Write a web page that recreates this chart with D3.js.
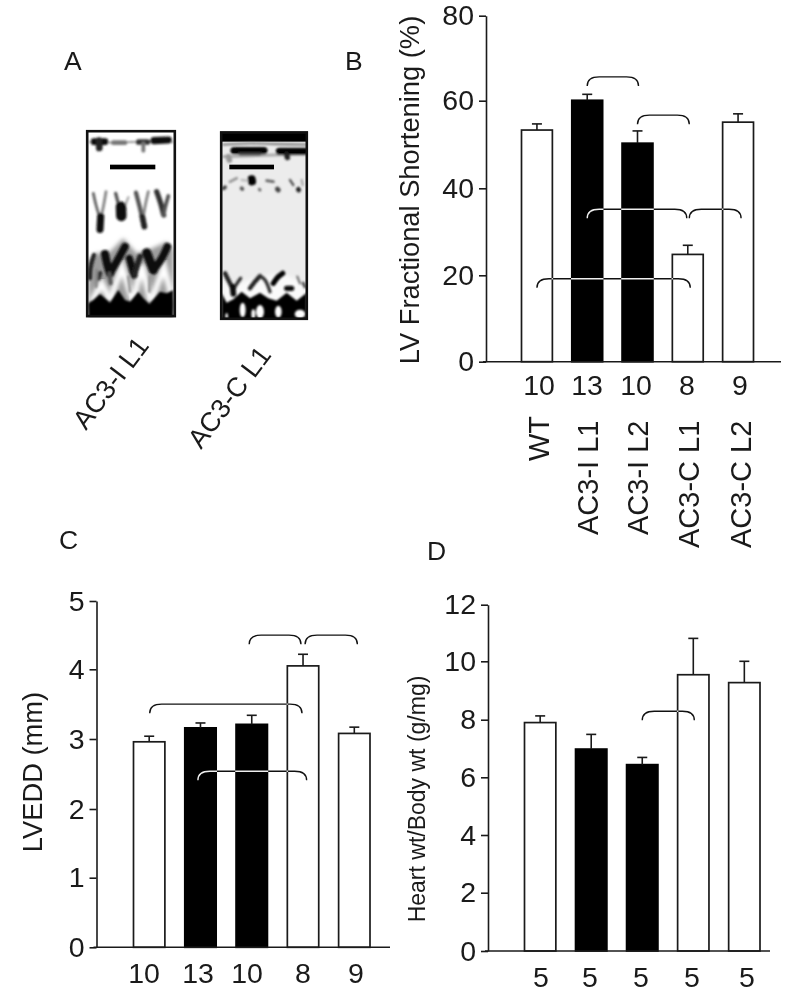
<!DOCTYPE html>
<html><head><meta charset="utf-8">
<script src="https://cdn.jsdelivr.net/npm/d3@7/dist/d3.min.js"></script>
<style>
html,body{margin:0;padding:0;background:#fff}
svg{display:block}
text{font-family:"Liberation Sans",Arial,sans-serif;fill:#1a1a1a}
</style></head><body>
<svg id="c" width="800" height="998"></svg>
<script>
// ---- data ----
const fills = ["#fff","#000","#000","#fff","#fff"];
const groups = ["WT","AC3-I L1","AC3-I L2","AC3-C L1","AC3-C L2"];
const fsValues = [53.3,60.1,50.3,24.8,55.1];
const fsTops   = [54.7,61.5,53.1,26.9,57.0];
const fsCounts = ["10","13","10","8","9"];
const fsTicks  = [0,20,40,60,80];
const lvValues = [2.96,3.16,3.21,4.05,3.08];
const lvTops   = [3.04,3.23,3.34,4.22,3.17];
const lvCounts = ["10","13","10","8","9"];
const lvTicks  = [0,1,2,3,4,5];
const hwValues = [7.9,6.98,6.44,9.54,9.27];
const hwTops   = [8.13,7.49,6.69,10.81,10.0];
const hwCounts = ["5","5","5","5","5"];
const hwTicks  = [0,2,4,6,8,10,12];
// brackets: [from bar position, to bar position, height in axis units]
const fsBrackets = [[1,2.02,65.6],[2,3.03,56.7],[1,2.98,35.2],[3.03,4.06,35.2],[0,3.05,19.2]];
const lvBrackets = [[1.95,2.96,4.5],[3.04,4.06,4.5],[0.01,2.98,3.5],[0.95,3.07,2.54]];
const hwBrackets = [[2.0,3.02,8.29]];

// ---- layout ----
const svg = d3.select("#c");
svg.append("rect").attr("width",800).attr("height",998).attr("fill","#fff");
const INK="#1a1a1a";

function panel(o){
  const g = svg.append("g");
  const y = d3.scaleLinear().domain(o.ticks).range(o.tickY);
  const x = d3.scaleBand().domain(d3.range(5)).range(o.barRange).paddingInner(o.pad).paddingOuter(0);
  const bx = d3.scaleLinear().domain([0,4]).range([x(0)+x.bandwidth()/2,x(4)+x.bandwidth()/2]);
  const lab = d3.scaleOrdinal().domain(d3.range(5)).range(o.labelX);

  g.selectAll("rect.bar").data(o.values).join("rect").attr("class","bar")
    .attr("x",(d,i)=>x(i)).attr("width",x.bandwidth())
    .attr("y",d=>y(d)).attr("height",d=>y(0)-y(d))
    .attr("fill",(d,i)=>fills[i]).attr("stroke",(d,i)=>fills[i]==="#000"?"#000":INK).attr("stroke-width",1.7);
  const cx = i=>x(i)+x.bandwidth()/2;
  g.selectAll("line.w").data(o.tops).join("line").attr("class","w")
    .attr("x1",(d,i)=>cx(i)).attr("x2",(d,i)=>cx(i))
    .attr("y1",(d,i)=>y(o.values[i])).attr("y2",d=>y(d)).attr("stroke",INK).attr("stroke-width",1.6);
  g.selectAll("line.c").data(o.tops).join("line").attr("class","c")
    .attr("x1",(d,i)=>cx(i)-5).attr("x2",(d,i)=>cx(i)+5)
    .attr("y1",d=>y(d)).attr("y2",d=>y(d)).attr("stroke",INK).attr("stroke-width",1.6);
  const ax = g.append("g").attr("transform",`translate(${o.axisX},0)`)
    .call(d3.axisLeft(y).tickValues(o.ticks).tickFormat(d3.format("d")).tickSize(7).tickSizeOuter(0).tickPadding(5));
  ax.selectAll("line,path").attr("stroke",INK).attr("stroke-width",1.6);
  ax.selectAll("text").attr("font-size",o.fs).attr("fill",INK).attr("font-family",'"Liberation Sans"');
  g.append("line").attr("x1",o.axisX-3).attr("x2",o.baseEnd).attr("y1",y(0)).attr("y2",y(0))
    .attr("stroke",INK).attr("stroke-width",1.6);
  g.selectAll("text.n").data(o.counts).join("text").attr("class","n")
    .attr("x",(d,i)=>lab(i)).attr("y",o.countY).attr("text-anchor","middle")
    .attr("font-size",o.fs).text(d=>d);
  g.append("text").attr("transform",`translate(${o.titleX},${o.titleY}) rotate(-90)`)
    .attr("text-anchor","middle").attr("font-size",o.titleFs).text(o.title);
  const bg = g.append("g").style("mix-blend-mode","difference");
  bg.selectAll("path").data(o.brackets).join("path")
    .attr("fill","none").attr("stroke","#eee").attr("stroke-width",1.4)
    .attr("d",d=>{
      const a=bx(d[0]),b=bx(d[1]),t=y(d[2]),h=9;
      return `M${a},${t+h}C${a},${t+2} ${a+5},${t} ${a+12},${t}L${b-12},${t}C${b-5},${t} ${b},${t+2} ${b},${t+h}`;
    });
  return {x:lab};
}

const pB = panel({tickY:[361.7,275.3,188.3,100.7,15.7],ticks:fsTicks,values:fsValues,tops:fsTops,counts:fsCounts,
  barRange:[521.5,753.5],pad:0.386,axisX:486,baseEnd:781,countY:395,fs:28.5,
  labelX:[539,587,636,687,740],title:"LV Fractional Shortening (%)",titleX:419,titleY:190,titleFs:27.3,brackets:fsBrackets});
panel({tickY:[947.3,877.7,809,739,669.3,601],ticks:lvTicks,values:lvValues,tops:lvTops,counts:lvCounts,
  barRange:[133.5,370],pad:0.388,axisX:96.5,baseEnd:390,countY:983,fs:28.5,
  labelX:[144,198,247,303,356],title:"LVEDD (mm)",titleX:42,titleY:772,titleFs:27.3,brackets:lvBrackets});
panel({tickY:[951,892.7,835,777.3,719.7,661.3,604.7],ticks:hwTicks,values:hwValues,tops:hwTops,counts:hwCounts,
  barRange:[524.5,760],pad:0.386,axisX:488,baseEnd:770,countY:987,fs:28.5,
  labelX:[541,590,641,692,747],title:"Heart wt/Body wt (g/mg)",titleX:425,titleY:799,titleFs:23,brackets:hwBrackets});

// group names under panel B
svg.selectAll("text.g").data(groups).join("text").attr("class","g")
  .attr("transform",(d,i)=>`translate(${pB.x(i)+[10,11,12,12,11][i]},${[461,535,535,548,548][i]}) rotate(-90)`)
  .attr("font-size",29).text(d=>d);

// panel letters
const letters = [["A",64,70],["B",345,70],["C",59,549],["D",427,560]];
svg.selectAll("text.l").data(letters).join("text").attr("class","l")
  .attr("x",d=>d[1]).attr("y",d=>d[2]).attr("font-size",26.5).text(d=>d[0]);

// slanted labels of panel A
const slant = [["AC3-I L1",86,431],["AC3-C L1",201,450]];
svg.selectAll("text.s").data(slant).join("text").attr("class","s")
  .attr("transform",d=>`translate(${d[1]},${d[2]}) rotate(-53)`)
  .attr("font-size",27).text(d=>d[0]);

// ---- panel A: the two M-mode echo strips, sketched as soft strokes ----
const ex = d3.scaleLinear().domain([0,810]).range([60,330]);
const ey = d3.scaleLinear().domain([0,690]).range([110,340]);
const defs = svg.append("defs");
const blur = (id,s)=>defs.append("filter").attr("id",id).attr("x","-20%").attr("y","-20%").attr("width","140%").attr("height","140%")
  .append("feGaussianBlur").attr("stdDeviation",s);
blur("b1",1.25); blur("b2",2.2); blur("b3",0.8);
const line = d3.line().x(d=>ex(d[0])).y(d=>ey(d[1])).curve(d3.curveCatmullRom);
const poly = d3.line().x(d=>ex(d[0])).y(d=>ey(d[1]));

const echo1 = {
  box:[78,60,348,622], bg:"#fff", barX:[150,286],
  haze:[[85,600],[85,455],[110,430],[150,425],[190,385],[230,430],[265,420],[320,395],[340,420],[340,600]],
  hazeFill:"#9c9c9c",
  glow:[[[95,575],[125,520],[150,570]],[[150,570],[186,470],[218,570]],[[218,575],[246,465],[272,575]],[[275,570],[312,470],[338,570]]],
  mass:[[85,625],[85,580],[100,570],[120,552],[135,565],[150,578],[175,540],[195,570],[210,575],[235,545],[250,565],[268,582],[300,545],[320,550],[340,540],[340,625]],
  strokes:[
   [[90,96],[130,98],[170,97],[215,96],[260,95],[300,92],[338,97],4,"#999"],
   [[102,95],[135,95],14,"#111"],[[117,92],[118,114],14,"#222"],
   [[160,98],[195,98],10,"#777"],
   [[236,96],[262,96],12,"#333"],[[250,100],[250,122],8,"#777"],
   [[282,92],[325,90],15,"#111"],
   [[100,250],[108,285],[120,325],6,"#666"],[[138,245],[130,290],[122,325],6,"#888"],[[122,320],[120,358],15,"#111"],
   [[167,250],[178,290],[184,305],7,"#555"],[[205,262],[190,300],5,"#aaa"],[[183,290],[184,318],22,"#111"],
   [[228,248],[240,295],[252,345],9,"#555"],[[265,245],[256,285],[250,320],6,"#888"],[[247,320],[253,350],12,"#222"],
   [[290,245],[302,280],[311,315],11,"#333"],[[325,258],[316,290],[311,315],8,"#555"],
   [[90,505],[92,470],[102,435],9,"#222"],[[115,505],[120,490],10,"#333"],
   [[135,432],[142,465],[150,490],17,"#111"],[[150,490],[170,455],[195,410],16,"#111"],
   [[208,445],[222,495],15,"#111"],[[222,495],[240,440],12,"#222"],
   [[260,428],[280,480],19,"#111"],[[280,480],[305,445],[322,410],16,"#111"],
   [[152,520],[148,490],8,"#555"],[[110,480],[108,530],6,"#888"],[[205,500],[210,545],6,"#999"],[[270,500],[268,545],6,"#999"]
  ],
  whites:[]
};
const echo2 = {
  box:[480,64,744,630], bg:"#ececec", barX:[508,642],
  topBand:95,
  haze:[[488,590],[488,510],[520,525],[600,500],[660,490],[738,520],[738,590]],
  hazeFill:"#fafafa",
  glow:[],
  mass:[[485,632],[485,550],[500,578],[520,568],[545,545],[570,565],[600,548],[625,565],[650,572],[680,548],[710,572],[740,548],[740,632]],
  strokes:[
   [[490,104],[570,100],[640,102],[738,104],5,"#888"],
   [[490,140],[560,138],[640,135],[738,132],6,"#aaa"],
   [[522,122],[612,122],15,"#000"],[[540,132],[600,132],6,"#444"],
   [[658,124],[735,124],15,"#000"],[[680,135],[682,142],12,"#222"],
   [[505,140],[508,150],12,"#999"],
   [[510,215],[530,205],6,"#999"],[[575,208],[576,214],17,"#000"],[[620,212],[640,215],6,"#666"],
   [[690,210],[700,225],5,"#555"],[[490,235],[495,232],8,"#444"],[[545,235],[547,237],8,"#555"],
   [[598,238],[600,240],6,"#666"],[[652,237],[655,240],10,"#444"],[[715,238],[716,240],10,"#222"],
   [[545,210],[560,212],5,"#bbb"],[[725,210],[728,225],5,"#aaa"],
   [[495,490],[510,520],[520,540],9,"#222"],[[520,540],[528,525],[542,505],7,"#333"],[[518,530],[520,552],12,"#111"],
   [[570,535],[585,515],[600,498],9,"#222"],[[600,498],[615,510],[630,545],7,"#333"],
   [[640,520],[655,500],[668,490],11,"#000"],
   [[680,535],[695,535],11,"#111"],[[712,500],[720,520],5,"#777"],[[730,520],[735,530],7,"#555"]
  ],
  whites:[[548,600,9,22],[600,605,12,20],[580,612,6,14],[655,605,10,18],[720,612,16,13],[500,618,4,9]]
};

function drawEcho(e,i){
  const [l,t,r,b]=e.box;
  const id="clip"+i;
  defs.append("clipPath").attr("id",id).append("rect")
    .attr("x",ex(l)).attr("y",ey(t)).attr("width",ex(r)-ex(l)).attr("height",ey(b)-ey(t));
  const g=svg.append("g").attr("clip-path",`url(#${id})`);
  g.append("rect").attr("x",ex(l)).attr("y",ey(t)).attr("width",ex(r)-ex(l)).attr("height",ey(b)-ey(t)).attr("fill",e.bg);
  const s=g.append("g");
  if(e.topBand) g.append("rect").attr("x",ex(l)).attr("y",ey(t)).attr("width",ex(r)-ex(l)).attr("height",ey(e.topBand)-ey(t)).attr("fill","#000");
  s.append("path").attr("d",poly(e.haze)+"Z").attr("fill",e.hazeFill).attr("filter","url(#b2)");
  e.glow.forEach(p=>s.append("path").attr("d",poly(p)).attr("fill","none").attr("stroke","#fff").attr("stroke-width",6).attr("filter","url(#b2)"));
  const k=g.append("g").attr("filter","url(#b1)");
  k.append("path").attr("d",poly(e.mass)+"Z").attr("fill","#000");
  e.strokes.forEach(a=>{
    const pts=a.slice(0,-2);
    k.append("path").attr("d",line(pts)).attr("fill","none").attr("stroke",a[a.length-1])
     .attr("stroke-width",a[a.length-2]/2.1).attr("stroke-linecap","round");
  });
  const wh=g.append("g").attr("filter","url(#b3)");
  e.whites.forEach(w=>wh.append("ellipse").attr("cx",ex(w[0])).attr("cy",ey(w[1])).attr("rx",w[2]/3).attr("ry",w[3]/3).attr("fill","#fff"));
  svg.append("rect").attr("x",ex(e.barX[0])).attr("y",ey(164)).attr("width",ex(e.barX[1])-ex(e.barX[0])).attr("height",ey(178)-ey(164)).attr("fill","#000");
  svg.append("rect").attr("x",ex(l)+1.2).attr("y",ey(t)+1.2).attr("width",ex(r)-ex(l)-2.4).attr("height",ey(b)-ey(t)-2.4)
    .attr("fill","none").attr("stroke","#111").attr("stroke-width",2.6);
}
[echo1,echo2].forEach(drawEcho);
</script>
</body></html>
